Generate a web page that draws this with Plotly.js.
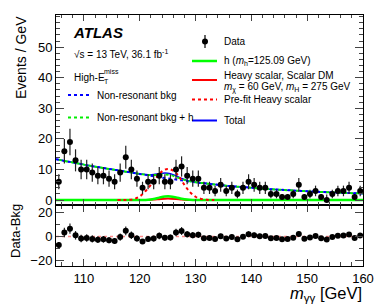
<!DOCTYPE html>
<html>
<head>
<meta charset="utf-8">
<script src="https://cdn.plot.ly/plotly-3.0.1.min.js"></script>
<style>html,body{margin:0;padding:0;background:#fff;}#chart{width:374px;height:307px;}</style>
</head>
<body>
<div id="chart"></div>
<script>
// ---- data ----
const binCenters = [105.5,106.5,107.5,108.5,109.5,110.5,111.5,112.5,113.5,114.5,115.5,116.5,117.5,118.5,119.5,120.5,121.5,122.5,123.5,124.5,125.5,126.5,127.5,128.5,129.5,130.5,131.5,132.5,133.5,134.5,135.5,136.5,137.5,138.5,139.5,140.5,141.5,142.5,143.5,144.5,145.5,146.5,147.5,148.5,149.5,150.5,151.5,152.5,153.5,154.5,155.5,156.5,157.5,158.5,159.5];
const dataCounts = [6,16,19,13,10,10,9,8,8,7,6,9,14,10,7,4,6,6,8,6,6,10,11,8,7,7,4,4,3,5,3,4,2,4,6,5,4,4,2,2,1,1,2,5,1,2,3,1,0,2,3,3,4,1,3];
// fitted non-resonant background, on curve grid (edges + bin centres)
const curveX = [105,105.5,106.5,107.5,108.5,109.5,110.5,111.5,112.5,113.5,114.5,115.5,116.5,117.5,118.5,119.5,120.5,121.5,122.5,123.5,124.5,125.5,126.5,127.5,128.5,129.5,130.5,131.5,132.5,133.5,134.5,135.5,136.5,137.5,138.5,139.5,140.5,141.5,142.5,143.5,144.5,145.5,146.5,147.5,148.5,149.5,150.5,151.5,152.5,153.5,154.5,155.5,156.5,157.5,158.5,159.5,160];
const bkgFit = [13.4,13.2,12.8,12.5,12.1,11.8,11.4,11.1,10.8,10.5,10.2,9.9,9.6,9.3,9.0,8.7,8.4,8.1,7.8,7.5,7.2,6.95,6.7,6.45,6.2,5.95,5.7,5.5,5.3,5.1,4.9,4.7,4.55,4.4,4.25,4.1,3.95,3.8,3.7,3.55,3.45,3.35,3.25,3.15,3.05,2.95,2.85,2.75,2.65,2.6,2.5,2.45,2.35,2.3,2.25,2.2,2.15];
// SM Higgs and fitted heavy scalar signal (non-zero region only)
const sigX = [118.5,119.5,120.5,121.5,122.5,123.5,124.5,125.5,126.5,127.5,128.5,129.5,130.5,131.5];
const higgsY = [0,0.01,0.03,0.13,0.39,0.81,1.18,1.21,0.89,0.46,0.17,0.04,0.01,0];
const heavyY = [0,0,0.01,0.05,0.16,0.32,0.47,0.48,0.36,0.18,0.07,0.02,0,0];
// pre-fit heavy scalar
const prefitX = [116,117,118,119,120,121,122,123,124,125,126,127,128,129,130,131,132,133,134];
const prefitY = [0,0.02,0.1,0.35,1.2,2.9,5.0,7.4,9.4,10.2,9.6,7.8,5.0,2.6,1.1,0.4,0.12,0.03,0];
const xTicks = [110,120,130,140,150,160];
const yTicksMain = [0,10,20,30,40,50];
const yTicksRatio = [-20,0,20];

// ---- derived ----
function lookup(xs, ys, x){ const i = xs.indexOf(x); return i >= 0 ? ys[i] : 0; }
const hOnGrid = curveX.map(x => lookup(sigX, higgsY, x));
const heavyOnGrid = curveX.map(x => lookup(sigX, heavyY, x));
const bkgPlusH = curveX.map((x,i) => bkgFit[i] + hOnGrid[i]);
const total = curveX.map((x,i) => bkgFit[i] + hOnGrid[i] + heavyOnGrid[i]);
const errUp = dataCounts.map(n => n > 0 ? Math.sqrt(n) : 1.84);
const errDn = dataCounts.map(n => Math.sqrt(n));
const resid = dataCounts.map((n,i) => n - lookup(curveX, bkgFit, binCenters[i]));

const FONT = 'Liberation Sans, Arial, Helvetica, sans-serif';
const L = 56, R = 11, T = 15, B = 41, W = 374, H = 307;
const px = x => (x - L) / (W - L - R);
const py = y => (H - B - y) / (H - T - B);

const traces = [
  {x: curveX, y: total, xaxis:'x2', yaxis:'y', mode:'lines', line:{color:'#0000ff', width:1.5, shape:'spline'}},
  {x: curveX, y: bkgFit, xaxis:'x2', yaxis:'y', mode:'lines', line:{color:'#0000ff', width:2, dash:'3px,3px', shape:'spline'}},
  {x: curveX, y: bkgPlusH, xaxis:'x2', yaxis:'y', mode:'lines', line:{color:'#00ee00', width:2, dash:'0px,3px,3px,0px', shape:'spline'}},
  {x: curveX, y: heavyOnGrid, xaxis:'x2', yaxis:'y', mode:'lines', line:{color:'#ff0000', width:2, shape:'spline'}},
  {x: curveX, y: hOnGrid, xaxis:'x2', yaxis:'y', mode:'lines', line:{color:'#00ff00', width:2.5, shape:'spline'}},
  {x: prefitX, y: prefitY, xaxis:'x2', yaxis:'y', mode:'lines', line:{color:'#ff0000', width:2, dash:'dot', shape:'spline'}},
  {x: binCenters, y: dataCounts, xaxis:'x2', yaxis:'y', mode:'markers', marker:{color:'black', size:6},
   error_y:{type:'data', symmetric:false, array:errUp, arrayminus:errDn, color:'#222', thickness:1.2, width:0}},
  {x: curveX, y: heavyOnGrid, xaxis:'x', yaxis:'y2', mode:'lines', line:{color:'rgba(255,60,60,0.6)', width:1.5, dash:'dot'}},
  {x: binCenters, y: resid, xaxis:'x', yaxis:'y2', mode:'markers', marker:{color:'black', size:6},
   error_y:{type:'data', symmetric:false, array:errUp, arrayminus:errDn, color:'#222', thickness:1.2, width:0}}
];

const axCommon = {showline:true, linecolor:'black', linewidth:1, mirror:'allticks', ticks:'inside', tickwidth:1,
  showgrid:false, zeroline:false, ticklabeloverflow:'allow', tickfont:{family:FONT, size:13, color:'black'}};

const layout = {
  width:W, height:H, margin:{l:L, r:R, t:T, b:B, pad:0},
  paper_bgcolor:'white', plot_bgcolor:'white', showlegend:false,
  font:{family:FONT, size:12, color:'black'},
  xaxis: Object.assign({}, axCommon, {domain:[0,1], anchor:'y2', range:[104.9999,160.0001], tickvals:xTicks, ticklen:7,
     minor:{dtick:2, tick0:0, ticks:'inside', ticklen:4, showgrid:false}}),
  xaxis2: Object.assign({}, axCommon, {domain:[0,1], anchor:'y', matches:'x', range:[104.9999,160.0001], tickvals:xTicks, ticklen:6,
     showticklabels:false, minor:{dtick:2, tick0:0, ticks:'inside', ticklen:3, showgrid:false}}),
  yaxis: Object.assign({}, axCommon, {domain:[0.243,1], anchor:'x2', range:[-1.6,60.5], tickvals:yTicksMain, ticklen:8,
     minor:{dtick:2, tick0:0, ticks:'inside', ticklen:4, showgrid:false}}),
  yaxis2: Object.assign({}, axCommon, {domain:[0,0.243], anchor:'x', range:[-25,26.5], tickvals:yTicksRatio, ticklen:8,
     minor:{dtick:10, tick0:0, ticks:'inside', ticklen:4, showgrid:false}}),
  shapes: [
    {type:'line', xref:'paper', yref:'paper', x0:px(68), x1:px(90), y0:py(95), y1:py(95), line:{color:'#0000ff', width:2, dash:'dot'}},
    {type:'line', xref:'paper', yref:'paper', x0:px(68), x1:px(90), y0:py(117.5), y1:py(117.5), line:{color:'#00ee00', width:2, dash:'dot'}},
    {type:'line', xref:'paper', yref:'paper', x0:px(205), x1:px(205), y0:py(35), y1:py(48), line:{color:'black', width:1.2}},
    {type:'circle', xref:'paper', yref:'paper', x0:px(202), x1:px(208), y0:py(38.5), y1:py(44.5), fillcolor:'black', line:{color:'black', width:0}},
    {type:'line', xref:'paper', yref:'paper', x0:px(192), x1:px(217), y0:py(61), y1:py(61), line:{color:'#00ff00', width:2.5}},
    {type:'line', xref:'paper', yref:'paper', x0:px(192), x1:px(217), y0:py(80), y1:py(80), line:{color:'#ff0000', width:2}},
    {type:'line', xref:'paper', yref:'paper', x0:px(192), x1:px(217), y0:py(99.5), y1:py(99.5), line:{color:'#ff0000', width:2, dash:'dot'}},
    {type:'line', xref:'paper', yref:'paper', x0:px(192), x1:px(217), y0:py(120.5), y1:py(120.5), line:{color:'#0000ff', width:2}}
  ],
  annotations: [
    {text:'<b><i>ATLAS</i></b>', x:px(71), y:py(32), size:15},
    {text:'√s = 13 TeV, 36.1 fb<sup>-1</sup>', x:px(72), y:py(54), size:10},
    {text:'High-E', x:px(72), y:py(77), size:10},
    {text:'miss', x:px(102), y:py(71), size:7},
    {text:'T', x:px(102), y:py(81), size:7},
    {text:'Non-resonant bkg', x:px(95), y:py(95), size:10},
    {text:'Non-resonant bkg + h', x:px(95), y:py(117.5), size:10},
    {text:'Data', x:px(222), y:py(41.5), size:10},
    {text:'h (<i>m</i><sub>h</sub>=125.09 GeV)', x:px(222), y:py(61), size:10},
    {text:'Heavy scalar, Scalar DM', x:px(222), y:py(75), size:10},
    {text:'<i>m</i><sub>χ</sub> = 60 GeV, <i>m</i><sub>H</sub> = 275 GeV', x:px(222), y:py(88), size:10},
    {text:'Pre-fit Heavy scalar', x:px(222), y:py(99.5), size:10},
    {text:'Total', x:px(222), y:py(120.5), size:10}
  ].map(a => ({text:a.text, x:a.x, y:a.y, xref:'paper', yref:'paper', xanchor:'left', yanchor:'middle',
               showarrow:false, font:{family:FONT, size:a.size, color:'black'}}))
  .concat([
    {text:'Events / GeV', x:px(21), y:py(58), xref:'paper', yref:'paper', xanchor:'center', yanchor:'middle',
     textangle:-90, showarrow:false, font:{family:FONT, size:14, color:'black'}},
    {text:'Data-Bkg', x:px(15), y:py(231), xref:'paper', yref:'paper', xanchor:'center', yanchor:'middle',
     textangle:-90, showarrow:false, font:{family:FONT, size:13, color:'black'}},
    {text:'<i>m</i><sub>γγ</sub> [GeV]', x:px(364), y:py(294), xref:'paper', yref:'paper', xanchor:'right', yanchor:'middle',
     showarrow:false, font:{family:FONT, size:16.5, color:'black'}}
  ])
};

Plotly.newPlot('chart', traces, layout, {staticPlot:true, displayModeBar:false});
</script>
</body>
</html>
